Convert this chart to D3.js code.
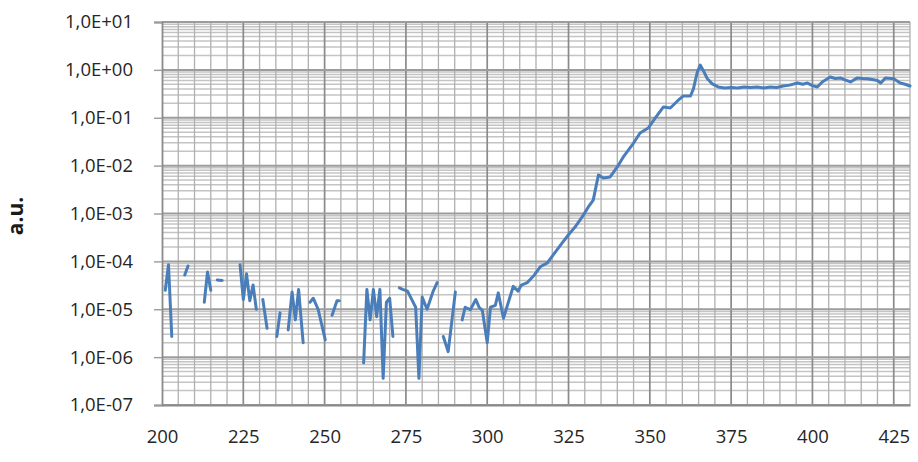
<!DOCTYPE html>
<html><head><meta charset="utf-8">
<script src="https://cdn.jsdelivr.net/npm/d3@7"></script>
<style>body{margin:0;background:#fff}</style>
</head><body><svg id="c" width="918" height="462"></svg>
<script>
const wavelength = [201,202,203,204,207,208,209,213,214,215,216,217,218.5,219,224,225,226,227,228,229,230,231,232.3,233,235.3,236.3,237,238.8,240,241,242,243.4,244,245.5,246.5,248,250.2,251,252.3,253.8,254.5,255,262,263,264,265,266,267,268,269,270,271,272,273,274,275.5,277,278,279,280,281.5,283.4,284.6,285,286.5,288,290.2,291,292.3,293.2,294.8,296.5,297.5,298.5,300,301,302.5,303.4,305,307,308,309.5,310.5,312.3,313.5,314.5,316.3,318.5,320.3,323,325,327,329.2,331.1,332.6,334.2,335.7,337.8,340,341.8,344.6,347,349.5,351.7,354.2,356.3,358.5,360.3,362.5,363.4,364.6,365.5,366.5,367.7,369.2,371,373,375,377,379,381,383,385,387,389,391,393,395.4,397,398.5,400,401.5,403,405.5,407,408.6,410,411.7,413.8,415.5,417,418.8,420,421,422.5,425,427,428.5,430];
const intensity = [2.5e-5,8.5e-5,2.7e-6,null,5.2e-5,8e-5,null,1.4e-5,6e-5,2.5e-5,null,4.1e-5,4.0e-5,null,8.5e-5,1.6e-5,5.5e-5,1.5e-5,3.2e-5,1.0e-5,null,1.6e-5,4e-6,null,2.7e-6,8.4e-6,null,3.7e-6,2.3e-5,6e-6,2.6e-5,2e-6,null,1.4e-5,1.7e-5,1.0e-5,2.3e-6,null,7.5e-6,1.5e-5,1.5e-5,null,7.6e-7,2.6e-5,6e-6,2.6e-5,7e-6,2.6e-5,3.6e-7,1.4e-5,1.7e-5,2.7e-6,null,2.8e-5,2.6e-5,2.4e-5,1.5e-5,1.1e-5,3.6e-7,1.8e-5,1.0e-5,2.4e-5,3.6e-5,null,2.7e-6,1.3e-6,2.3e-5,null,6e-6,1.1e-5,9.8e-6,1.6e-5,1.1e-5,9.5e-6,2e-6,1.1e-5,1.2e-5,2.2e-5,6.5e-6,1.8e-5,3e-5,2.4e-5,3.2e-5,3.6e-5,4.4e-5,5.2e-5,7.7e-5,9.3e-5,1.37e-4,2.4e-4,3.6e-4,5.2e-4,8.5e-4,1.37e-3,1.9e-3,6.4e-3,5.5e-3,5.8e-3,9.4e-3,1.5e-2,2.7e-2,4.8e-2,6.1e-2,9.9e-2,0.168,0.16,0.224,0.285,0.285,0.40,0.90,1.26,0.95,0.65,0.51,0.44,0.42,0.43,0.42,0.44,0.43,0.44,0.42,0.44,0.43,0.46,0.48,0.53,0.50,0.53,0.47,0.44,0.56,0.71,0.66,0.68,0.62,0.56,0.68,0.66,0.65,0.62,0.60,0.53,0.68,0.65,0.53,0.50,0.46];
const xTicks = [200,225,250,275,300,325,350,375,400,425];
const yTicks = [1e1,1e0,1e-1,1e-2,1e-3,1e-4,1e-5,1e-6,1e-7];
const yTickLabels = ["1,0E+01","1,0E+00","1,0E-01","1,0E-02","1,0E-03","1,0E-04","1,0E-05","1,0E-06","1,0E-07"];
const yTitle = "a.u.";

const svg = d3.select("#c");
const x = d3.scaleLinear().domain([200,430]).range([162,910]);
const y = d3.scaleLog().domain([1e-7,1e1]).range([405,22]);
const font = "'Open Sans', 'Noto Sans', sans-serif";

// minor horizontal grid
const minors = [];
for (let e=-7;e<1;e++) for (let k=2;k<=9;k++) minors.push(k*Math.pow(10,e));
svg.append("g").selectAll("line").data(minors).join("line")
  .attr("x1",x(200)).attr("x2",x(430))
  .attr("y1",d=>y(d)).attr("y2",d=>y(d))
  .attr("stroke","#c4c4c4").attr("stroke-width",1.5);
// vertical grid
const vgrid = d3.range(205,431,5);
svg.append("g").selectAll("line").data(vgrid).join("line")
  .attr("x1",d=>x(d)).attr("x2",d=>x(d))
  .attr("y1",y(1e1)).attr("y2",y(1e-7))
  .attr("stroke",d=>d%25===0?"#8a8a8a":"#b0b0b0").attr("stroke-width",d=>d%25===0?1.7:1.3);
// major horizontal grid
svg.append("g").selectAll("line").data(yTicks).join("line")
  .attr("x1",x(200)).attr("x2",x(430))
  .attr("y1",d=>y(d)).attr("y2",d=>y(d))
  .attr("stroke","#9c9c9c").attr("stroke-width",2);

// axes
const yAxis = d3.axisLeft(y).tickValues(yTicks).tickFormat((d,i)=>yTickLabels[i]).tickSize(8).tickPadding(21);
const gy = svg.append("g").attr("transform",`translate(${x(200)},0)`).call(yAxis);
gy.select(".domain").attr("stroke","#8a8a8a").attr("stroke-width",1.8);
gy.selectAll(".tick line").attr("stroke","#9a9a9a").attr("stroke-width",1.4);
gy.selectAll("text").attr("font-family",font).attr("font-size",18.5).attr("fill","#262626");

const xAxis = d3.axisBottom(x).tickValues(xTicks).tickSize(0).tickPadding(25);
const gx = svg.append("g").attr("transform",`translate(0,${y(1e-7)})`).call(xAxis);
gx.select(".domain").attr("stroke","#8a8a8a").attr("stroke-width",2);
gx.selectAll("text").attr("font-family",font).attr("font-size",18.5).attr("fill","#262626");

svg.append("text").attr("transform","translate(23,216) rotate(-90)")
  .attr("text-anchor","middle").attr("font-family",font).attr("font-weight","bold")
  .attr("font-size",21).attr("fill","#1a1a1a").text(yTitle);

// data line
const pts = wavelength.map((w,i)=>({w, v:intensity[i]}));
const line = d3.line().defined(d=>d.v!=null).x(d=>x(d.w)).y(d=>y(d.v));
svg.append("path").datum(pts).attr("d",line)
  .attr("fill","none").attr("stroke","#4a7ebb").attr("stroke-width",3)
  .attr("stroke-linejoin","round").attr("stroke-linecap","round");
</script></body></html>
